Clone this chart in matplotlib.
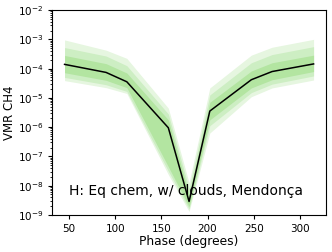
import numpy as np
import matplotlib
matplotlib.use("Agg")
import matplotlib.pyplot as plt

phase = [45, 90, 112.5, 157.5, 180, 202.5, 247.5, 270, 315]
log_median = [-3.855, -4.13, -4.45, -6.02, -8.54, -5.45, -4.38, -4.10, -3.84]
log_in_hi = [-3.55, -3.83, -4.15, -5.75, -8.30, -5.15, -4.08, -3.80, -3.54]
log_in_lo = [-4.14, -4.40, -4.65, -7.35, -8.72, -5.75, -4.66, -4.38, -4.10]
log_mid_hi = [-3.28, -3.57, -3.90, -5.55, -8.10, -4.90, -3.80, -3.52, -3.25]
log_mid_lo = [-4.30, -4.55, -4.78, -7.50, -8.80, -5.95, -4.82, -4.53, -4.25]
log_out_hi = [-3.02, -3.37, -3.65, -5.35, -7.90, -4.66, -3.54, -3.27, -3.00]
log_out_lo = [-4.41, -4.65, -4.85, -7.62, -8.88, -6.20, -4.96, -4.66, -4.39]

label_text = "H: Eq chem, w/ clouds, Mendonça"

def p(v):
    return 10.0 ** np.array(v)

fig = plt.figure(figsize=(3.32, 2.52), dpi=100)
ax = fig.add_axes([0.157, 0.147, 0.825, 0.813])

ax.fill_between(phase, p(log_out_lo), p(log_out_hi), color="#e6f6e0", lw=0)
ax.fill_between(phase, p(log_mid_lo), p(log_mid_hi), color="#cdeec3", lw=0)
ax.fill_between(phase, p(log_in_lo), p(log_in_hi), color="#b3e5a1", lw=0)
ax.plot(phase, p(log_median), color="black", lw=1.1)

ax.set_yscale("log")
ax.set_ylim(1e-9, 1e-2)
ax.set_xlim(31.5, 328.5)
ax.set_xticks([50, 100, 150, 200, 250, 300])
ax.set_yticks([10.0 ** k for k in range(-9, -1)])
ax.tick_params(labelsize=7.5, length=3)
ax.tick_params(which="minor", length=1.5)
ax.set_xlabel("Phase (degrees)", fontsize=8.8, labelpad=1)
ax.set_ylabel("VMR CH4", fontsize=8.5, labelpad=1)
ax.text(0.06, 0.095, label_text, transform=ax.transAxes, fontsize=10,
        va="baseline")

fig.savefig("out.png", dpi=100)
